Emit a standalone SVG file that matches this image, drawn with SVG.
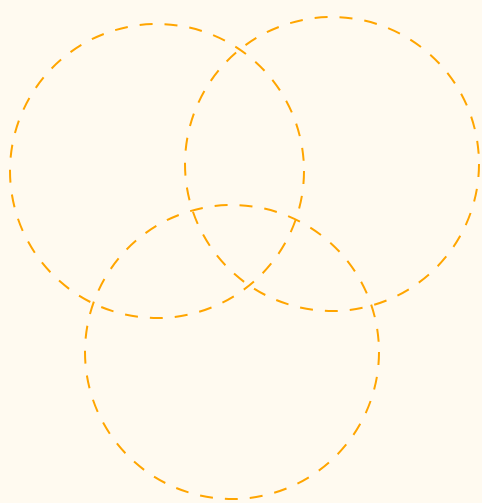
<svg xmlns="http://www.w3.org/2000/svg" width="482" height="503" viewBox="0 0 482 503">
<style>
.c{fill:none;stroke:#FFA500;stroke-width:2;stroke-dasharray:13 12;}
</style>
<rect width="482" height="503" fill="#FFFAF0"/>
<g id="circle-a"><circle class="c" cx="157" cy="171" r="147"/></g>
<g id="circle-b"><circle class="c" cx="332" cy="164" r="147"/></g>
<g id="circle-c"><circle class="c" cx="232" cy="352" r="147"/></g>
</svg>
